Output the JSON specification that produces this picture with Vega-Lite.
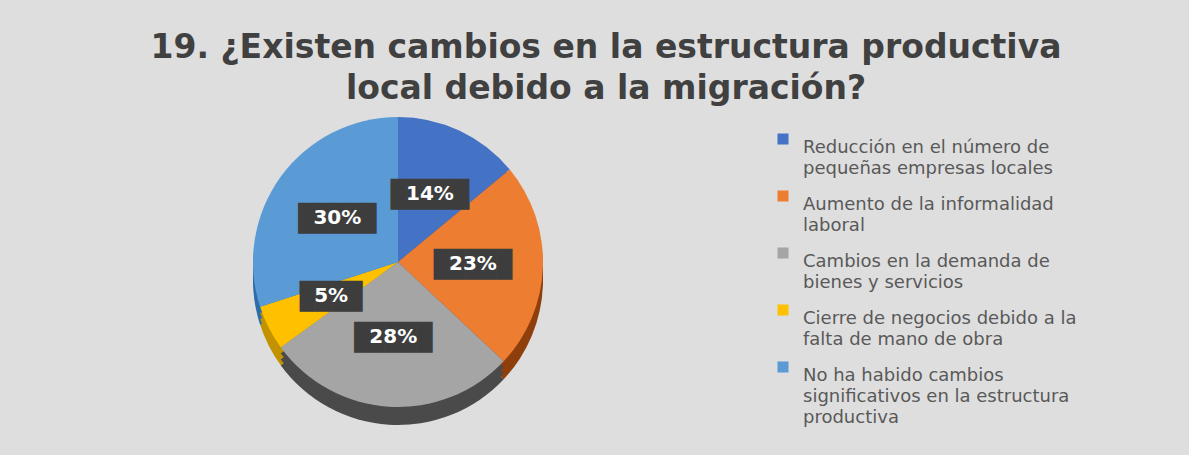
{
  "$schema": "https://vega.github.io/schema/vega-lite/v6.json",
  "width": 796,
  "height": 324,
  "autosize": "none",
  "padding": {"left": 0, "top": 100, "right": 393, "bottom": 31},
  "background": "#dedede",
  "title": {
    "text": ["19. ¿Existen cambios en la estructura productiva", "local debido a la migración?"],
    "anchor": "middle",
    "dx": 208,
    "offset": -6,
    "font": "DejaVu Sans",
    "fontSize": 33,
    "fontWeight": "bold",
    "lineHeight": 41,
    "color": "#404040"
  },
  "data": {
    "values": [
      {"categoria": "Reducción en el número de pequeñas empresas locales", "porcentaje": 0.14, "orden": 1},
      {"categoria": "Aumento de la informalidad laboral", "porcentaje": 0.23, "orden": 2},
      {"categoria": "Cambios en la demanda de bienes y servicios", "porcentaje": 0.28, "orden": 3},
      {"categoria": "Cierre de negocios debido a la falta de mano de obra", "porcentaje": 0.05, "orden": 4},
      {"categoria": "No ha habido cambios significativos en la estructura productiva", "porcentaje": 0.30, "orden": 5}
    ]
  },
  "layer": [
    {
      "mark": {"type": "arc", "radius": 145, "yOffset": 18, "stroke": null},
      "encoding": {
        "theta": {"field": "porcentaje", "type": "quantitative", "stack": true},
        "order": {"field": "orden", "type": "quantitative"},
        "color": {"field": "categoria", "type": "nominal", "legend": null,
          "scale": {"domain": ["Reducción en el número de pequeñas empresas locales", "Aumento de la informalidad laboral", "Cambios en la demanda de bienes y servicios", "Cierre de negocios debido a la falta de mano de obra", "No ha habido cambios significativos en la estructura productiva"],
                    "range": ["#2F528F", "#8E3F0C", "#4A4A4A", "#C29200", "#2E6DA8"]}}
      }
    },
    {
      "mark": {"type": "arc", "radius": 145, "yOffset": 12, "stroke": null},
      "encoding": {
        "theta": {"field": "porcentaje", "type": "quantitative", "stack": true},
        "order": {"field": "orden", "type": "quantitative"},
        "color": {"field": "categoria", "type": "nominal", "legend": null,
          "scale": {"domain": ["Reducción en el número de pequeñas empresas locales", "Aumento de la informalidad laboral", "Cambios en la demanda de bienes y servicios", "Cierre de negocios debido a la falta de mano de obra", "No ha habido cambios significativos en la estructura productiva"],
                    "range": ["#2F528F", "#8E3F0C", "#4A4A4A", "#C29200", "#2E6DA8"]}}
      }
    },
    {
      "mark": {"type": "arc", "radius": 145, "yOffset": 6, "stroke": null},
      "encoding": {
        "theta": {"field": "porcentaje", "type": "quantitative", "stack": true},
        "order": {"field": "orden", "type": "quantitative"},
        "color": {"field": "categoria", "type": "nominal", "legend": null,
          "scale": {"domain": ["Reducción en el número de pequeñas empresas locales", "Aumento de la informalidad laboral", "Cambios en la demanda de bienes y servicios", "Cierre de negocios debido a la falta de mano de obra", "No ha habido cambios significativos en la estructura productiva"],
                    "range": ["#2F528F", "#8E3F0C", "#4A4A4A", "#C29200", "#2E6DA8"]}}
      }
    },
    {
      "mark": {"type": "arc", "radius": 145, "stroke": null},
      "encoding": {
        "theta": {"field": "porcentaje", "type": "quantitative", "stack": true},
        "order": {"field": "orden", "type": "quantitative"},
        "color": {"field": "categoria", "type": "nominal",
          "scale": {"domain": ["Reducción en el número de pequeñas empresas locales", "Aumento de la informalidad laboral", "Cambios en la demanda de bienes y servicios", "Cierre de negocios debido a la falta de mano de obra", "No ha habido cambios significativos en la estructura productiva"],
                    "range": ["#4472C4", "#ED7D31", "#A5A5A5", "#FFC000", "#5B9BD5"]},
          "legend": {
            "title": null,
            "orient": "none",
            "legendX": 774,
            "legendY": 30,
            "symbolType": "square",
            "symbolSize": 121,
            "symbolStrokeWidth": 0,
            "labelFont": "DejaVu Sans",
            "labelFontSize": 18,
            "labelColor": "#595959",
            "labelBaseline": "top",
            "labelOffset": 11,
            "labelLimit": 420,
            "rowPadding": 9,
            "labelExpr": "datum.value == 'Reducción en el número de pequeñas empresas locales' ? ['Reducción en el número de', 'pequeñas empresas locales'] : datum.value == 'Aumento de la informalidad laboral' ? ['Aumento de la informalidad', 'laboral'] : datum.value == 'Cambios en la demanda de bienes y servicios' ? ['Cambios en la demanda de', 'bienes y servicios'] : datum.value == 'Cierre de negocios debido a la falta de mano de obra' ? ['Cierre de negocios debido a la', 'falta de mano de obra'] : ['No ha habido cambios', 'significativos en la estructura', 'productiva']"
          }
        }
      }
    },
    {
      "mark": {"type": "text", "radius": 75, "font": "DejaVu Sans Mono", "fontSize": 26, "fill": "#3d3d3d", "align": "center", "baseline": "middle", "dy": 1},
      "encoding": {
        "theta": {"field": "porcentaje", "type": "quantitative", "stack": true},
        "order": {"field": "orden", "type": "quantitative"},
        "text": {"condition": {"test": "datum.porcentaje < 0.1", "value": "████"}, "value": "█████"}
      }
    },
    {
      "mark": {"type": "text", "radius": 75, "font": "DejaVu Sans", "fontSize": 20, "fontWeight": "bold", "fill": "#ffffff", "align": "center", "baseline": "middle"},
      "encoding": {
        "theta": {"field": "porcentaje", "type": "quantitative", "stack": true},
        "order": {"field": "orden", "type": "quantitative"},
        "text": {"field": "porcentaje", "type": "quantitative", "format": ".0%"}
      }
    }
  ],
  "resolve": {"scale": {"color": "independent"}},
  "config": {
    "view": {"stroke": null},
    "style": {"guide-label": {"lineHeight": 21}}
  }
}
